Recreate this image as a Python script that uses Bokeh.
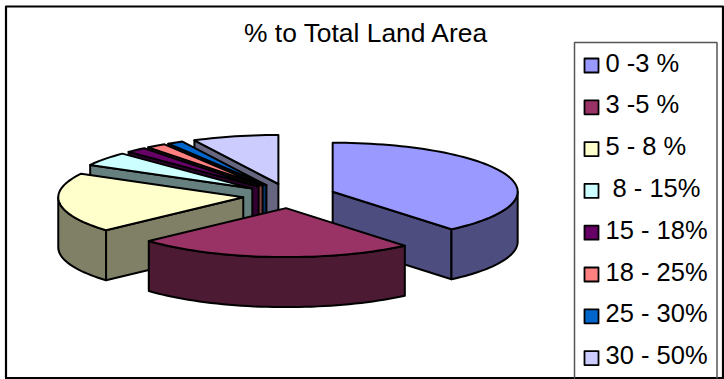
import math

from bokeh.core.properties import value
from bokeh.embed import file_html
from bokeh.models import Range1d
from bokeh.plotting import figure
from bokeh.resources import INLINE

TITLE = "% to Total Land Area"
categories = ["0 -3 %", "3 -5 %", "5 - 8 %", "\u00a08 - 15%", "15 - 18%", "18 - 25%", "25 - 30%", "30 - 50%"]
shares = [38.9, 24.4, 19.7, 4.6, 1.8, 1.7, 1.4, 7.5]
top_colors = ["#9999FF", "#993366", "#FFFFCC", "#CCFFFF", "#660066", "#FF8080", "#0066CC", "#CCCCFF"]
wall_colors = ["#4D4D80", "#4D1A33", "#808066", "#668080", "#330033", "#804040", "#003366", "#666680"]

# Oblique pie projection, in page pixels
CX, CY, RX, RY = 288.7, 195.4, 185.0, 49.0
EXPLODE = 0.25
DEPTH = 50.0
FONT = value("Liberation Sans")


def point(angle, radius=1.0, cx=CX, cy=CY):
    a = math.radians(angle)
    return cx + RX * radius * math.sin(a), cy - RY * radius * math.cos(a)


def arc(start, end, cx, cy):
    steps = max(2, int(abs(end - start) / 2) + 1)
    return [point(start + (end - start) * i / steps, 1.0, cx, cy) for i in range(steps + 1)]


def down(points):
    return [(x, y + DEPTH) for x, y in points]


p = figure(width=724, height=379, output_backend="svg", toolbar_location=None,
           x_range=Range1d(0, 724), y_range=Range1d(379, 0), min_border=0)
p.axis.visible = False
p.grid.visible = False
p.outline_line_color = None


def poly(points, fill, width=2.0):
    xs, ys = zip(*points)
    p.patch(list(xs), list(ys), fill_color=fill, line_color="black", line_width=width, line_join="round")


# Outer chart frame
poly([(5.5, 6), (722.5, 6), (722.5, 377.5), (5.5, 377.5)], "white", 2.2)

# Slice angles, clockwise from twelve o'clock
total = sum(shares)
spans = []
running = 0.0
for share in shares:
    start = running
    running += share / total * 360.0
    spans.append((start, running))

# Back slices first, so the two big front slices cover them
for i in [7, 6, 5, 4, 3, 2, 0, 1]:
    start, end = spans[i]
    mid = (start + end) / 2
    ax, ay = point(mid, EXPLODE)
    apex = (ax, ay)
    if math.cos(math.radians(start - 90)) < 0:
        edge = [apex, point(start, 1.0, ax, ay)]
        poly(edge + down(edge)[::-1], wall_colors[i])
    if math.cos(math.radians(end + 90)) < 0:
        edge = [apex, point(end, 1.0, ax, ay)]
        poly(edge + down(edge)[::-1], wall_colors[i])
    front_start, front_end = max(start, 90.0), min(end, 270.0)
    if front_end > front_start:
        rim = arc(front_start, front_end, ax, ay)
        poly(rim + down(rim)[::-1], wall_colors[i])
    poly([apex] + arc(start, end, ax, ay), top_colors[i])

p.text([366], [32], text=[TITLE], text_font=FONT, text_font_size="26.4px", text_color="black",
       text_align="center", text_baseline="middle")

# Legend
p.line([574, 574, 716.5, 716.5], [378, 42, 42, 378], line_color="#555555", line_width=1.5)
LEG_Y0, LEG_STEP = 65.0, 41.8
for i, name in enumerate(categories):
    y = LEG_Y0 + i * LEG_STEP
    poly([(584, y - 7), (598, y - 7), (598, y + 7), (584, y + 7)], top_colors[i], 1.8)
    p.text([605], [y - 3], text=[name], text_font=FONT, text_font_size="25.5px", text_color="black",
           text_align="left", text_baseline="middle")

open("out.html", "w").write(file_html(p, INLINE))
